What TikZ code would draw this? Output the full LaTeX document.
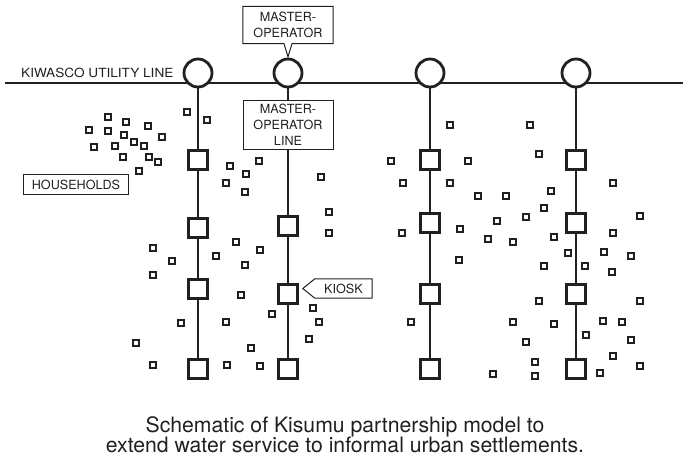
\documentclass[tikz,border=0pt]{standalone}
\usepackage{fontspec}
\setmainfont{TeX Gyre Heros}
\usepackage{xcolor}
\usepackage{tikz}

\definecolor{ink}{HTML}{231F20}

\tikzset{
	utility/.style={draw=ink, line width=1.4pt},
	pipe/.style={draw=ink, line width=2.8pt},
	tap/.style={circle, draw=ink, fill=white, line width=2.8pt, minimum size=28pt, inner sep=0pt},
	kiosk/.style={rectangle, draw=ink, fill=white, line width=2.8pt, minimum size=18.3pt, inner sep=0pt},
	house/.style={rectangle, draw=ink, fill=white, line width=2.4pt, minimum size=6.3pt, inner sep=0pt},
	lbl/.style={font=\fontsize{12.6}{16}\selectfont, text=ink, inner sep=0pt, align=center},
	caption/.style={font=\fontsize{21.2}{19}\selectfont, text=ink, inner sep=0pt},
	tag/.style={draw=ink, line width=1pt, line join=miter},
}

\begin{document}
\begin{tikzpicture}[x=1pt,y=-1pt]
		\useasboundingbox (0,0) rectangle (690,456);

		\coordinate (uw) at (5,83);
		\coordinate (ue) at (683,83);
		\draw[utility] (uw) -- (ue);
		\node[lbl, anchor=base west] (ul) at (21,77) {\scalebox{1.08}[1]{KIWASCO UTILITY LINE}};

		\foreach \c/\x in {1/198, 2/288, 3/430, 4/576}
			\node[tap] (c\c) at (\x,73) {};

		\foreach \c/\x/\ys in {1/198/{160,228,289,369}, 2/288/{226,294,369}, 3/430/{160,223,294,369}, 4/576/{160,223,294,369}} {
			\foreach \y [count=\k] in \ys
				\node[kiosk] (k\c\k) at (\x,\y) {};
		}

		\node[lbl, draw=ink, line width=1pt, fill=white, minimum width=90pt, minimum height=49pt] (mol) at (288,124.5) {MASTER-\\OPERATOR\\LINE};

		\foreach \a/\b in {c1/k11, k11/k12, k12/k13, k13/k14,
			c2/mol, mol/k21, k21/k22, k22/k23,
			c3/k31, k31/k32, k32/k33, k33/k34,
			c4/k41, k41/k42, k42/k43, k43/k44}
			\draw[pipe] (\a) -- (\b);

		\node[lbl, minimum width=90pt, minimum height=37pt] (mo) at (288,25) {MASTER-\\OPERATOR};
		\draw[tag] (mo.south west) -- (mo.north west) -- (mo.north east) -- (mo.south east)
			-- ([xshift=4pt]mo.south) -- ([yshift=-13pt]mo.south) -- ([xshift=-4pt]mo.south) -- cycle;

		\node[lbl, minimum width=57pt, minimum height=19pt] (kl) at (343.5,288.5) {KIOSK};
		\draw[tag] (kl.north east) -- (kl.north west) -- ([xshift=-12pt]kl.west) -- (kl.south west) -- (kl.south east) -- cycle;

		\node[lbl, draw=ink, line width=1pt, minimum width=105pt, minimum height=20pt] (hl) at (76,184.5) {HOUSEHOLDS};

		\foreach \x/\y [count=\i] in {108/117, 126/122, 148/126, 89/130, 108/131, 124/135, 134/142, 162/137,
			94/147, 115/146, 144/146, 123/157, 149/157, 158/162, 139/171, 187/112, 207/120,
			230/166, 246/174, 259/161, 226/183, 245/192, 321/177,
			450/125, 530/125, 391/161, 468/161, 539/154, 403/183, 450/183, 613/183, 478/196, 506/196, 551/191,
			329/212, 329/233, 153/248, 236/242, 216/256, 260/250, 172/261, 245/265, 153/275, 241/295,
			272/314, 313/308, 319/322, 181/323, 226/322, 309/339, 136/343, 251/348, 153/365, 227/365, 260/366,
			544/208, 526/217, 497/221, 640/216, 402/233, 460/229, 488/239, 513/242, 554/237, 613/233,
			568/253, 604/252, 631/256, 459/260, 544/266, 585/266, 612/272, 539/301, 640/301,
			411/322, 513/322, 554/324, 603/321, 622/322, 586/335, 526/342, 631/340, 613/356,
			535/362, 640/366, 493/374, 535/376, 600/373}
			\node[house] (h\i) at (\x,\y) {};

		\node[caption, anchor=base] (cap1) at (345,432.5) {Schematic of Kisumu partnership model to};
		\node[caption, anchor=base] (cap2) at (345,452) {extend water service to informal urban settlements.};
	\end{tikzpicture}
\end{document}
